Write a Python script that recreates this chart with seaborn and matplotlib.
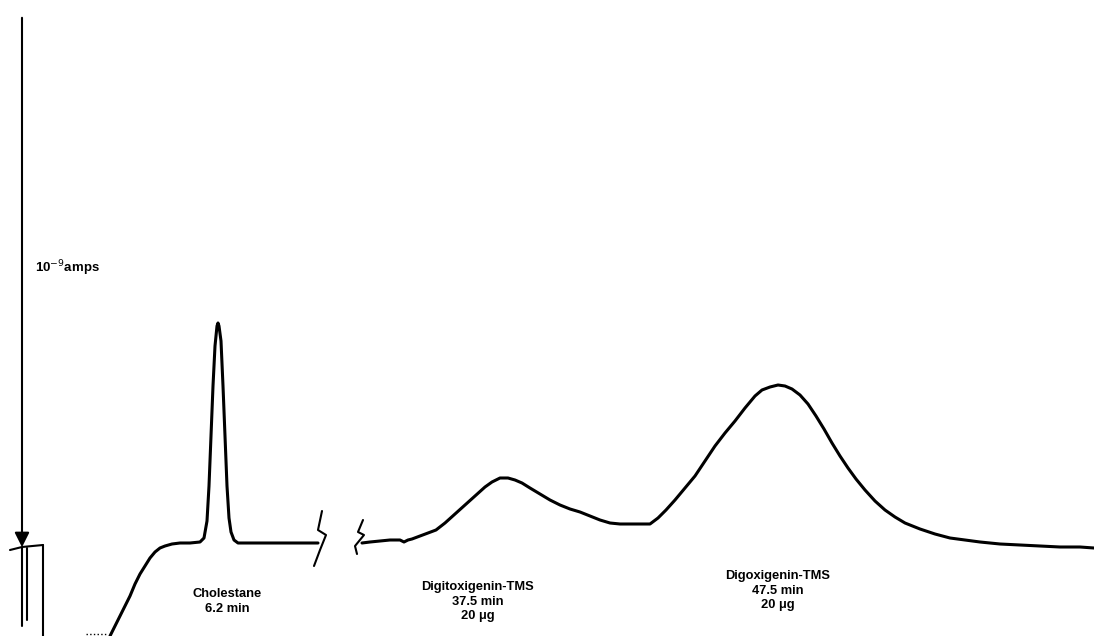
import matplotlib
matplotlib.use('Agg')
import matplotlib.pyplot as plt
import seaborn as sns
import pandas as pd

# --- data (x = chart position, y = signal height) ---
trace_a_x = [110, 115, 120, 125, 130, 135, 140, 145, 150, 155, 160, 165, 172, 180, 190, 200, 204,
             207, 209, 211, 213, 215, 217, 218, 219, 221, 223, 225, 227, 229, 231, 234, 238, 245,
             260, 280, 300, 318]
trace_a_y = [0, 10, 20, 30, 40, 52, 62, 70, 78, 84, 88, 90, 92, 93, 93, 94, 98,
             115, 150, 200, 250, 290, 310, 313, 310, 295, 250, 200, 150, 118, 104, 96, 93, 93,
             93, 93, 93, 93]

trace_b_x = [362, 370, 380, 390, 400, 404, 408, 412, 420, 428, 436, 445, 455, 465, 475, 485, 492,
             500, 508, 515, 522, 530, 540, 550, 560, 570, 580, 590, 600, 610, 620, 635, 650,
             658, 666, 675, 685, 695, 705, 715, 725, 735, 745, 755, 762, 770, 778, 785, 792,
             800, 808, 816, 824, 832, 840, 848, 856, 865, 875, 885, 895, 905, 920, 935, 950,
             965, 980, 1000, 1020, 1040, 1060, 1080, 1094]
trace_b_y = [93, 94, 95, 96, 96, 94, 96, 97, 100, 103, 106, 113, 122, 131, 140, 149, 154,
             158, 158, 156, 153, 148, 142, 136, 131, 127, 124, 120, 116, 113, 112, 112, 112,
             118, 126, 136, 148, 160, 175, 190, 203, 215, 228, 240, 246, 249, 251, 250, 247,
             241, 232, 220, 207, 193, 180, 168, 157, 146, 135, 126, 119, 113, 107, 102, 98,
             96, 94, 92, 91, 90, 89, 89, 88]

# break marks on the baseline
break1_x = [322, 318, 326, 320, 314]
break1_y = [125, 106, 101, 86, 70]
break2_x = [363, 358, 364, 355, 357]
break2_y = [116, 104, 101, 90, 82]

labels = ["Cholestane\n6.2 min",
          "Digitoxigenin-TMS\n37.5 min\n20 \u03bcg",
          "Digoxigenin-TMS\n47.5 min\n20 \u03bcg"]
label_x = [227, 478, 778]
label_y = [48, 55, 66]

df_a = pd.DataFrame({'x': trace_a_x, 'y': trace_a_y})
df_b = pd.DataFrame({'x': trace_b_x, 'y': trace_b_y})

sns.set_style('white')
plt.rcParams['text.color'] = 'black'
fig = plt.figure(figsize=(10.94, 6.36), dpi=100)
ax = fig.add_axes([0, 0, 1, 1])

sns.lineplot(data=df_a, x='x', y='y', ax=ax, color='black', lw=2.2, sort=False)
sns.lineplot(data=df_b, x='x', y='y', ax=ax, color='black', lw=2.2, sort=False)
ax.plot(break1_x, break1_y, color='black', lw=1.5)
ax.plot(break2_x, break2_y, color='black', lw=1.5)

# small dotted start of the trace
ax.plot([86, 106], [2, 2], color='black', lw=1, ls=':')

# current scale arrow and pen marker at the left
ax.annotate('', xy=(22, 86), xytext=(22, 621),
            arrowprops=dict(arrowstyle='-|>', color='black', lw=1.5, mutation_scale=22))
ax.plot([22, 22], [88, 10], color='black', lw=1.5)
ax.plot([10, 22, 43], [86, 89, 91], color='black', lw=1.5)
ax.plot([43, 43], [91, 0], color='black', lw=1.5)
ax.plot([27, 27], [88, 16], color='black', lw=1.5)

font = ['Liberation Sans', 'DejaVu Sans']
ax.text(35, 368, '10$^{-9}$amps', fontsize=9.5, fontweight='bold', va='center', ha='left',
        color='black', family=font)

for t, lx, ly in zip(labels, label_x, label_y):
    ax.text(lx, ly, t, fontsize=9.3, fontweight='bold', ha='center', va='top',
            linespacing=1.3, color='black', family=font)

ax.set_xlim(0, 1094)
ax.set_ylim(0, 636)
ax.axis('off')
fig.savefig('out.png', dpi=100)
